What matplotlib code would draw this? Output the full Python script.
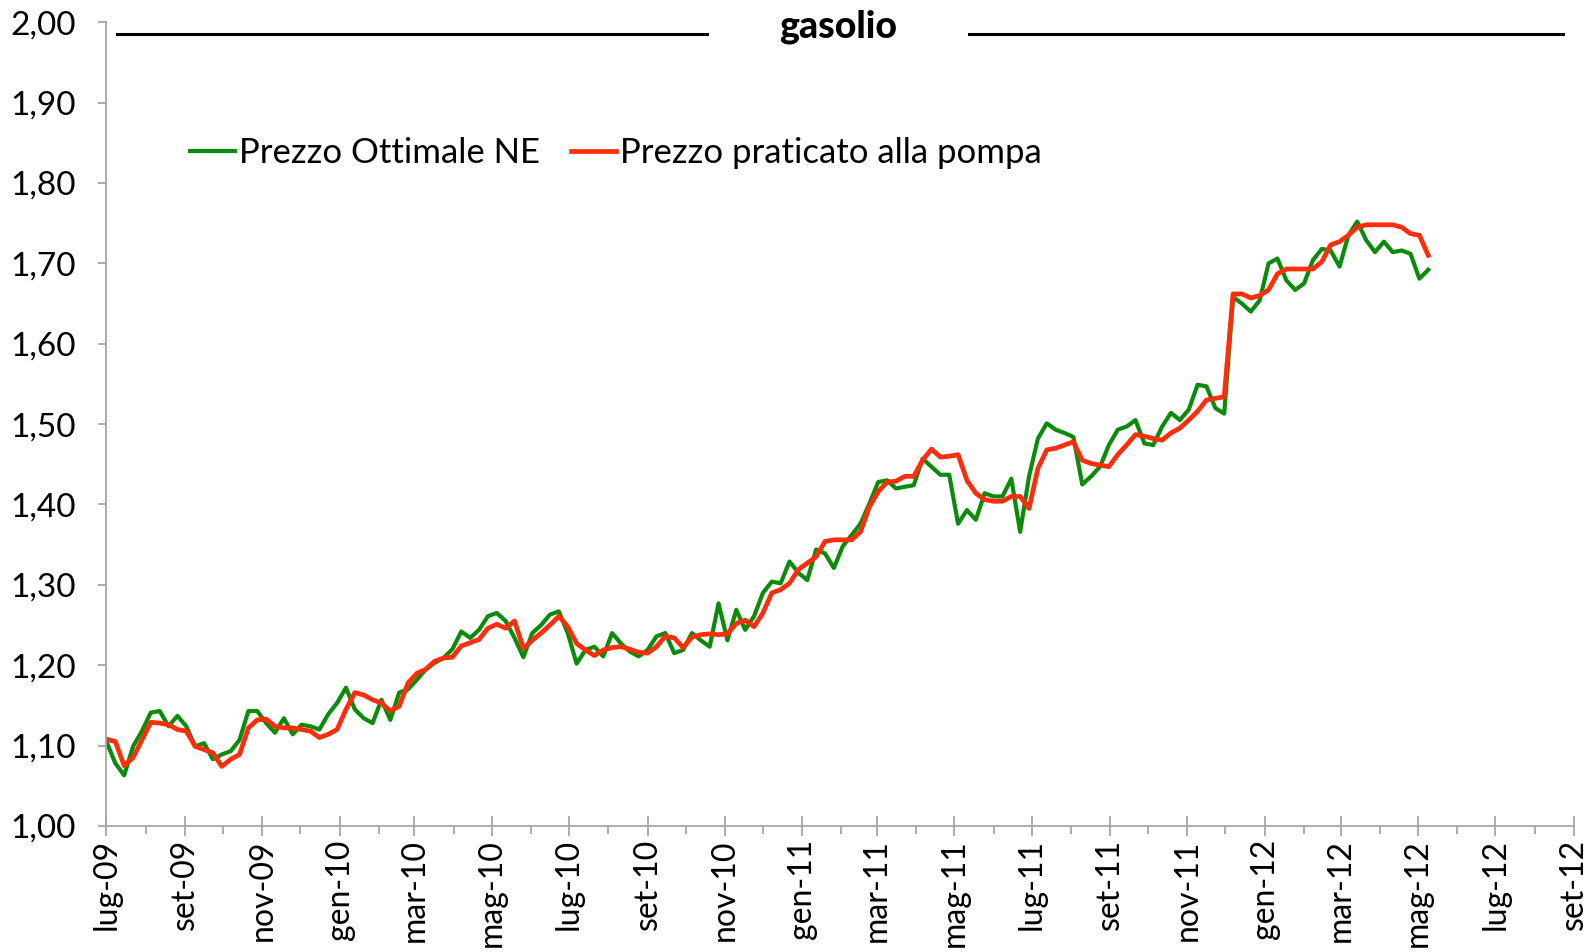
import matplotlib
matplotlib.use("Agg")
import matplotlib.pyplot as plt
import matplotlib.dates as mdates
import matplotlib.lines as mlines
from matplotlib.ticker import FuncFormatter, MultipleLocator
import pandas as pd

plt.rcParams["font.family"] = ["Lato", "DejaVu Sans"]

# weekly observations starting from the first week of July 2009
start_date = "2009-07-01"

prezzo_ottimale = [
    1.105, 1.078, 1.063, 1.099, 1.118, 1.141, 1.143, 1.124, 1.137, 1.124,
    1.099, 1.103, 1.083, 1.089, 1.093, 1.107, 1.143, 1.143, 1.128, 1.116,
    1.134, 1.114, 1.126, 1.124, 1.120, 1.139, 1.153, 1.172, 1.145, 1.134,
    1.128, 1.157, 1.132, 1.166, 1.170, 1.182, 1.195, 1.203, 1.209, 1.220,
    1.242, 1.234, 1.244, 1.261, 1.265, 1.255, 1.234, 1.210, 1.240, 1.250,
    1.263, 1.267, 1.240, 1.202, 1.219, 1.223, 1.211, 1.240, 1.227, 1.217,
    1.211, 1.219, 1.236, 1.240, 1.215, 1.219, 1.240, 1.231, 1.223, 1.277,
    1.231, 1.269, 1.244, 1.261, 1.290, 1.304, 1.302, 1.329, 1.315, 1.306,
    1.344, 1.339, 1.321, 1.348, 1.362, 1.376, 1.401, 1.428, 1.430, 1.420,
    1.422, 1.424, 1.457, 1.447, 1.437, 1.437, 1.376, 1.393, 1.381, 1.414,
    1.410, 1.410, 1.432, 1.366, 1.435, 1.482, 1.501, 1.493, 1.489, 1.484,
    1.425, 1.435, 1.447, 1.474, 1.493, 1.497, 1.505, 1.476, 1.474, 1.497,
    1.514, 1.505, 1.518, 1.549, 1.547, 1.520, 1.513, 1.658, 1.650, 1.640,
    1.654, 1.700, 1.706, 1.679, 1.667, 1.675, 1.704, 1.718, 1.716, 1.696,
    1.735, 1.752, 1.729, 1.714, 1.727, 1.714, 1.716, 1.712, 1.681, 1.692,
]

prezzo_pompa = [
    1.108, 1.105, 1.075, 1.085, 1.107, 1.129, 1.128, 1.126, 1.120, 1.118,
    1.099, 1.095, 1.091, 1.074, 1.083, 1.089, 1.122, 1.132, 1.133, 1.124,
    1.122, 1.122, 1.120, 1.118, 1.110, 1.114, 1.120, 1.145, 1.166, 1.163,
    1.157, 1.153, 1.143, 1.149, 1.178, 1.190, 1.195, 1.205, 1.209, 1.210,
    1.224, 1.228, 1.232, 1.246, 1.251, 1.246, 1.255, 1.221, 1.231, 1.240,
    1.250, 1.261, 1.248, 1.227, 1.219, 1.212, 1.219, 1.222, 1.223, 1.220,
    1.216, 1.215, 1.223, 1.236, 1.234, 1.222, 1.235, 1.238, 1.239, 1.238,
    1.239, 1.252, 1.256, 1.248, 1.265, 1.290, 1.294, 1.302, 1.319, 1.327,
    1.335, 1.354, 1.356, 1.356, 1.356, 1.366, 1.397, 1.416, 1.428, 1.429,
    1.435, 1.435, 1.455, 1.469, 1.459, 1.460, 1.462, 1.430, 1.414, 1.406,
    1.404, 1.404, 1.410, 1.410, 1.395, 1.445, 1.468, 1.470, 1.474, 1.478,
    1.455, 1.451, 1.449, 1.447, 1.462, 1.474, 1.487, 1.485, 1.482, 1.480,
    1.489, 1.495, 1.505, 1.516, 1.530, 1.532, 1.534, 1.662, 1.662, 1.657,
    1.660, 1.667, 1.687, 1.693, 1.693, 1.693, 1.693, 1.702, 1.723, 1.727,
    1.735, 1.745, 1.748, 1.748, 1.748, 1.748, 1.745, 1.737, 1.735, 1.710,
]

mesi = ["gen", "feb", "mar", "apr", "mag", "giu",
        "lug", "ago", "set", "ott", "nov", "dic"]

GREEN = "#0a8c0a"
RED = "#ff2d0a"
AXIS_GRAY = "#a6a6a6"

dates = pd.date_range(start_date, periods=len(prezzo_ottimale), freq="7D")

fig = plt.figure(figsize=(15.91, 9.52), dpi=100)
ax = fig.add_axes([0.0669, 0.1324, 0.9224, 0.8442])

ax.plot(dates, prezzo_ottimale, color=GREEN, lw=3.0, label="Prezzo Ottimale NE",
        solid_joinstyle="round")
ax.plot(dates, prezzo_pompa, color=RED, lw=3.4, label="Prezzo praticato alla pompa",
        solid_joinstyle="round")

ax.set_xlim(pd.Timestamp("2009-07-01"), pd.Timestamp("2012-09-01"))
ax.set_ylim(1.0, 2.0)

ax.yaxis.set_major_locator(MultipleLocator(0.1))
ax.yaxis.set_major_formatter(FuncFormatter(lambda v, _: f"{v:.2f}".replace(".", ",")))

ax.xaxis.set_major_locator(mdates.MonthLocator(bymonth=[1, 3, 5, 7, 9, 11]))
ax.xaxis.set_minor_locator(mdates.MonthLocator())
ax.xaxis.set_major_formatter(FuncFormatter(
    lambda v, _: f"{mesi[mdates.num2date(v).month - 1]}-{mdates.num2date(v).year % 100:02d}"))

for side in ("top", "right"):
    ax.spines[side].set_visible(False)
for side in ("left", "bottom"):
    ax.spines[side].set_color(AXIS_GRAY)
    ax.spines[side].set_linewidth(1.3)

ax.tick_params(axis="y", direction="out", length=6, width=1.3, color=AXIS_GRAY,
               labelsize=24, pad=16)
ax.tick_params(axis="x", which="major", direction="inout", length=15, width=1.3,
               color=AXIS_GRAY, labelsize=23, pad=2, labelrotation=90)
ax.tick_params(axis="x", which="minor", direction="out", length=6, width=1.3,
               color=AXIS_GRAY)

# title with rule lines on both sides
ax.text(0.4985, 0.9805, "gasolio", transform=ax.transAxes, ha="center",
        va="baseline", fontsize=27, fontweight="black")
for x0, x1 in ((0.0069, 0.4093), (0.5878, 0.9925)):
    ax.add_line(mlines.Line2D([x0, x1], [0.986, 0.986], transform=ax.transAxes,
                              color="black", lw=2.2, clip_on=False))

ax.legend(loc="center left", bbox_to_anchor=(0.057, 0.837), ncol=2, frameon=False,
          fontsize=25, handlelength=1.3, handletextpad=0.1, columnspacing=0.9,
          borderpad=0, borderaxespad=0)

fig.savefig("out.png", dpi=100)
